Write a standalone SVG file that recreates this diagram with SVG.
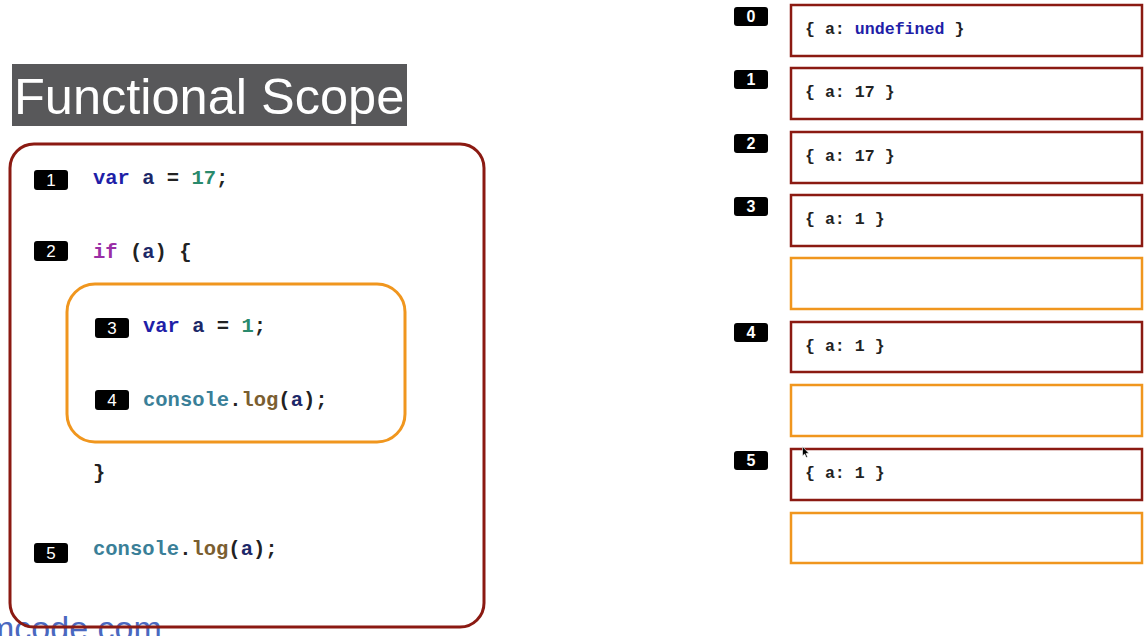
<svg xmlns="http://www.w3.org/2000/svg" width="1145" height="636" viewBox="0 0 1145 636">
  <style>
    .code { font-family: "Liberation Mono", "Courier New", monospace; font-weight: bold; font-size: 20.5px; fill: #222; }
    .mem { font-family: "Liberation Mono", "Courier New", monospace; font-weight: bold; font-size: 16.6px; fill: #222; }
    .badge { fill: #000; }
    .num { font-family: "Liberation Sans", Arial, sans-serif; font-size: 17px; fill: #fff; text-anchor: middle; }
    .numb { font-family: "Liberation Sans", Arial, sans-serif; font-size: 16px; font-weight: bold; fill: #fff; text-anchor: middle; }
    .kw { fill: #1f1fa8; }
    .id { fill: #1c2868; }
    .lit { fill: #2a8a6c; }
    .ctl { fill: #9a2ea6; }
    .obj { fill: #3a7f98; }
    .fn { fill: #7a5e30; }
    .scope { fill: none; stroke: #8b1a12; stroke-width: 3; }
    .block { fill: #fff; stroke: #f0961e; stroke-width: 3; }
    .frame { fill: #fff; stroke: #8b1a12; stroke-width: 2.5; }
    .frame-block { fill: #fff; stroke: #f0961e; stroke-width: 2.5; }
  </style>

  <rect width="1145" height="636" fill="#fff"/>

  <!-- title -->
  <g id="title">
    <rect x="12" y="64" width="395" height="62" fill="#58585a"/>
    <text x="14" y="114" font-family="Liberation Sans, Arial, sans-serif" font-size="50.5" fill="#fff">Functional Scope</text>
  </g>

  <!-- site mark at the bottom edge -->
  <text x="-14" y="640" font-family="Liberation Sans, Arial, sans-serif" font-size="34" fill="#4a68c0">mcode.com</text>

  <!-- function scope -->
  <g id="function-scope">
    <rect class="scope" x="10" y="144" width="474" height="483" rx="24" ry="24"/>
  </g>

  <g id="line1">
    <rect class="badge" x="34" y="170" width="34" height="20" rx="3"/>
    <text class="num" x="51" y="186">1</text>
    <text class="code" x="93" y="184"><tspan class="kw">var</tspan> <tspan class="id">a</tspan> = <tspan class="lit">17</tspan>;</text>
  </g>

  <g id="line2">
    <rect class="badge" x="34" y="241" width="34" height="20" rx="3"/>
    <text class="num" x="51" y="257">2</text>
    <text class="code" x="93" y="258"><tspan class="ctl">if</tspan> (<tspan class="id">a</tspan>) {</text>
  </g>

  <!-- if block -->
  <g id="if-block">
    <rect class="block" x="67" y="284" width="338" height="158" rx="28" ry="28"/>
  </g>

  <g id="line3">
    <rect class="badge" x="95" y="318" width="34" height="20" rx="3"/>
    <text class="num" x="112" y="334">3</text>
    <text class="code" x="143" y="332"><tspan class="kw">var</tspan> <tspan class="id">a</tspan> = <tspan class="lit">1</tspan>;</text>
  </g>

  <g id="line4">
    <rect class="badge" x="95" y="390" width="34" height="20" rx="3"/>
    <text class="num" x="112" y="406">4</text>
    <text class="code" x="143" y="406"><tspan class="obj">console</tspan>.<tspan class="fn">log</tspan>(<tspan class="id">a</tspan>);</text>
  </g>

  <g id="close-brace">
    <text class="code" x="93" y="479">}</text>
  </g>

  <g id="line5">
    <rect class="badge" x="34" y="543" width="34" height="20" rx="3"/>
    <text class="num" x="51" y="559">5</text>
    <text class="code" x="93" y="555"><tspan class="obj">console</tspan>.<tspan class="fn">log</tspan>(<tspan class="id">a</tspan>);</text>
  </g>

  <!-- memory frames per step -->
  <g id="step0">
    <rect class="badge" x="734" y="7" width="34" height="19" rx="3"/>
    <text class="numb" x="751" y="22">0</text>
    <rect class="frame" x="791" y="5" width="351" height="51"/>
    <text class="mem" x="805" y="34">{ a: <tspan class="kw">undefined</tspan> }</text>
  </g>

  <g id="step1">
    <rect class="badge" x="734" y="70" width="34" height="19" rx="3"/>
    <text class="numb" x="751" y="85">1</text>
    <rect class="frame" x="791" y="68" width="351" height="51"/>
    <text class="mem" x="805" y="97">{ a: 17 }</text>
  </g>

  <g id="step2">
    <rect class="badge" x="734" y="134" width="34" height="19" rx="3"/>
    <text class="numb" x="751" y="149">2</text>
    <rect class="frame" x="791" y="132" width="351" height="51"/>
    <text class="mem" x="805" y="161">{ a: 17 }</text>
  </g>

  <g id="step3">
    <rect class="badge" x="734" y="197" width="34" height="19" rx="3"/>
    <text class="numb" x="751" y="212">3</text>
    <rect class="frame" x="791" y="195" width="351" height="51"/>
    <text class="mem" x="805" y="224">{ a: 1 }</text>
    <rect class="frame-block" x="791" y="258" width="351" height="51"/>
  </g>

  <g id="step4">
    <rect class="badge" x="734" y="323" width="34" height="19" rx="3"/>
    <text class="numb" x="751" y="338">4</text>
    <rect class="frame" x="791" y="322" width="351" height="50"/>
    <text class="mem" x="805" y="351">{ a: 1 }</text>
    <rect class="frame-block" x="791" y="385" width="351" height="51"/>
  </g>

  <g id="step5">
    <rect class="badge" x="734" y="451" width="34" height="19" rx="3"/>
    <text class="numb" x="751" y="466">5</text>
    <rect class="frame" x="791" y="449" width="351" height="51"/>
    <text class="mem" x="805" y="478">{ a: 1 }</text>
    <rect class="frame-block" x="791" y="513" width="351" height="50"/>
  </g>

  <!-- pointer -->
  <path d="M802.5 446.5 L802.5 456 L804.6 454 L806.3 457.6 L807.6 457 L806 453.5 L808.8 453.3 Z" fill="#000" stroke="#fff" stroke-width="0.6"/>
</svg>
